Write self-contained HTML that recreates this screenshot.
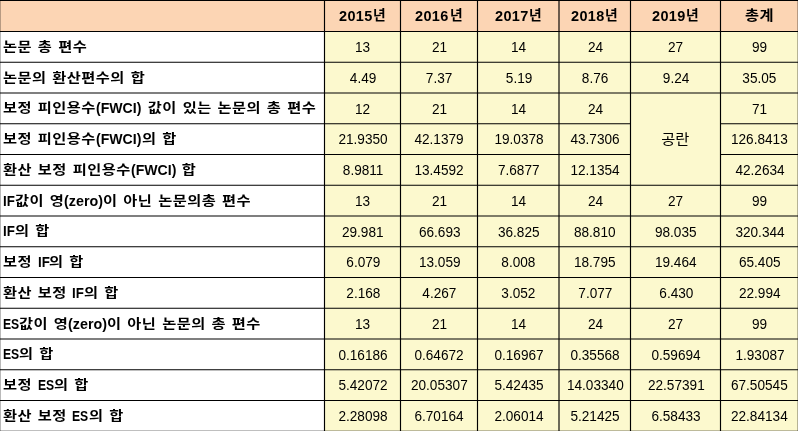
<!DOCTYPE html><html lang="ko"><head><meta charset="utf-8"><title>table</title><style>
html,body{margin:0;padding:0;background:#fff}
#t{position:relative;width:798px;height:431px;overflow:hidden;background:#fff;color:#000}
#t svg{position:absolute;left:0;top:0}
.c{position:absolute;display:flex;align-items:center;white-space:nowrap;line-height:1}
.l{justify-content:flex-start;font-family:"Liberation Sans","Noto Sans CJK KR",sans-serif;font-weight:700;font-size:13.0px}
.l b{display:inline-block;white-space:pre;font-weight:700;letter-spacing:0.4px;word-spacing:0.96px;transform:scaleX(1.173);transform-origin:0 50%}
.l i{display:inline-block;line-height:0;font-style:normal;font-size:15.4px;transform-origin:0 50%}
.n{padding-left:0.8px;box-sizing:border-box;justify-content:center;font-family:"Liberation Sans","Noto Sans CJK KR",sans-serif;font-weight:400;font-size:15.5px;letter-spacing:0.0px}
.n span{display:inline-block;transform:scaleX(0.878)}
.g{font-size:14.2px;padding-left:0}.g span{transform:translate(0.3px,-0.5px) scaleX(1.08)}
.h{justify-content:center;font-family:"Liberation Sans","Noto Sans CJK KR",sans-serif;font-weight:700;font-size:13.5px;letter-spacing:0.41px}
.h b{display:inline-block;white-space:pre;font-weight:700;letter-spacing:0.41px;transform:scaleX(1.13);transform-origin:0 50%}
.h i{display:inline-block;position:relative;top:1px;font-style:normal;font-size:15.4px;transform:scaleX(0.94);transform-origin:0 50%}
</style></head><body><div id="t">
<svg width="798" height="431" viewBox="0 0 798 431"><rect x="0" y="0" width="798" height="31.5" fill="#FCD5B4"/><rect x="324.5" y="31.5" width="473.5" height="399.5" fill="#FCF9CE"/><line x1="0" y1="0.45" x2="798" y2="0.45" stroke="#000" stroke-width="1.15"/><line x1="0" y1="31.5" x2="798" y2="31.5" stroke="#000" stroke-width="1.15"/><line x1="0" y1="62.25" x2="798" y2="62.25" stroke="#000" stroke-width="1.15"/><line x1="0" y1="93.0" x2="798" y2="93.0" stroke="#000" stroke-width="1.15"/><path d="M0 123.75 H630.5 M720.5 123.75 H798" stroke="#000" stroke-width="1.15" fill="none"/><path d="M0 154.5 H630.5 M720.5 154.5 H798" stroke="#000" stroke-width="1.15" fill="none"/><line x1="0" y1="185.25" x2="798" y2="185.25" stroke="#000" stroke-width="1.15"/><line x1="0" y1="216.0" x2="798" y2="216.0" stroke="#000" stroke-width="1.15"/><line x1="0" y1="246.75" x2="798" y2="246.75" stroke="#000" stroke-width="1.15"/><line x1="0" y1="277.5" x2="798" y2="277.5" stroke="#000" stroke-width="1.15"/><line x1="0" y1="308.25" x2="798" y2="308.25" stroke="#000" stroke-width="1.15"/><line x1="0" y1="339.0" x2="798" y2="339.0" stroke="#000" stroke-width="1.15"/><line x1="0" y1="369.75" x2="798" y2="369.75" stroke="#000" stroke-width="1.15"/><line x1="0" y1="400.5" x2="798" y2="400.5" stroke="#000" stroke-width="1.15"/><line x1="0" y1="431.25" x2="798" y2="431.25" stroke="#000" stroke-width="1.15"/><line x1="-0.3" y1="0" x2="-0.3" y2="431" stroke="#000" stroke-width="1.15"/><line x1="324.5" y1="0" x2="324.5" y2="431" stroke="#000" stroke-width="1.15"/><line x1="400.5" y1="0" x2="400.5" y2="431" stroke="#000" stroke-width="1.15"/><line x1="477.5" y1="0" x2="477.5" y2="431" stroke="#000" stroke-width="1.15"/><line x1="559.0" y1="0" x2="559.0" y2="431" stroke="#000" stroke-width="1.15"/><line x1="630.5" y1="0" x2="630.5" y2="431" stroke="#000" stroke-width="1.15"/><line x1="720.5" y1="0" x2="720.5" y2="431" stroke="#000" stroke-width="1.15"/><line x1="798.3" y1="0" x2="798.3" y2="431" stroke="#000" stroke-width="1.15"/></svg>
<div class="c h" style="left:324.5px;top:-0.25px;width:76.0px;height:30.75px;"><span><i style="margin-right:-2.06px">2015</i><b style="transform:scaleX(1.02);margin-right:0.26px;margin-left:0.5px">년</b></span></div>
<div class="c h" style="left:400.5px;top:-0.25px;width:77.0px;height:30.75px;"><span><i style="margin-right:-2.06px">2016</i><b style="transform:scaleX(1.02);margin-right:0.26px;margin-left:0.5px">년</b></span></div>
<div class="c h" style="left:477.5px;top:-0.25px;width:81.5px;height:30.75px;"><span><i style="margin-right:-2.06px">2017</i><b style="transform:scaleX(1.02);margin-right:0.26px;margin-left:0.5px">년</b></span></div>
<div class="c h" style="left:559.0px;top:-0.25px;width:71.5px;height:30.75px;"><span><i style="margin-right:-2.06px">2018</i><b style="transform:scaleX(1.02);margin-right:0.26px;margin-left:0.5px">년</b></span></div>
<div class="c h" style="left:630.5px;top:-0.25px;width:90.0px;height:30.75px;"><span><i style="margin-right:-2.06px">2019</i><b style="transform:scaleX(1.02);margin-right:0.26px;margin-left:0.5px">년</b></span></div>
<div class="c h" style="left:720.5px;top:-0.25px;width:77.8px;height:30.75px;"><span><b style="transform:translateY(0.6px) scaleX(1.13);margin-right:3.34px">총계</b></span></div>
<div class="c l" style="left:-0.3px;top:31.0px;width:324.8px;height:30.75px;padding-left:3.2px;"><span><b style="margin-right:12.19px">논문 총 편수</b></span></div>
<div class="c n" style="left:324.5px;top:31.5px;width:76.0px;height:30.75px;"><span>13</span></div>
<div class="c n" style="left:400.5px;top:31.5px;width:77.0px;height:30.75px;"><span>21</span></div>
<div class="c n" style="left:477.5px;top:31.5px;width:81.5px;height:30.75px;"><span>14</span></div>
<div class="c n" style="left:559.0px;top:31.5px;width:71.5px;height:30.75px;"><span>24</span></div>
<div class="c n" style="left:630.5px;top:31.5px;width:90.0px;height:30.75px;"><span>27</span></div>
<div class="c n" style="left:720.5px;top:31.5px;width:77.8px;height:30.75px;"><span>99</span></div>
<div class="c l" style="left:-0.3px;top:61.75px;width:324.8px;height:30.75px;padding-left:3.2px;"><span><b style="margin-right:20.74px">논문의 환산편수의 합</b></span></div>
<div class="c n" style="left:324.5px;top:62.25px;width:76.0px;height:30.75px;"><span>4.49</span></div>
<div class="c n" style="left:400.5px;top:62.25px;width:77.0px;height:30.75px;"><span>7.37</span></div>
<div class="c n" style="left:477.5px;top:62.25px;width:81.5px;height:30.75px;"><span>5.19</span></div>
<div class="c n" style="left:559.0px;top:62.25px;width:71.5px;height:30.75px;"><span>8.76</span></div>
<div class="c n" style="left:630.5px;top:62.25px;width:90.0px;height:30.75px;"><span>9.24</span></div>
<div class="c n" style="left:720.5px;top:62.25px;width:77.8px;height:30.75px;"><span>35.05</span></div>
<div class="c l" style="left:-0.3px;top:92.5px;width:324.8px;height:30.75px;padding-left:3.2px;"><span><b style="margin-right:13.58px">보정 피인용수</b><i style="transform:translateY(0.7px) scaleX(0.915);margin-right:-4.22px;margin-left:0.6px">(FWCI)</i><b style="margin-right:25.12px"> 값이 있는 논문의 총 편수</b></span></div>
<div class="c n" style="left:324.5px;top:93.0px;width:76.0px;height:30.75px;"><span>12</span></div>
<div class="c n" style="left:400.5px;top:93.0px;width:77.0px;height:30.75px;"><span>21</span></div>
<div class="c n" style="left:477.5px;top:93.0px;width:81.5px;height:30.75px;"><span>14</span></div>
<div class="c n" style="left:559.0px;top:93.0px;width:71.5px;height:30.75px;"><span>24</span></div>
<div class="c n" style="left:720.5px;top:93.0px;width:77.8px;height:30.75px;"><span>71</span></div>
<div class="c l" style="left:-0.3px;top:123.25px;width:324.8px;height:30.75px;padding-left:3.2px;"><span><b style="margin-right:13.58px">보정 피인용수</b><i style="transform:translateY(0.7px) scaleX(0.915);margin-right:-4.22px;margin-left:0.6px">(FWCI)</i><b style="margin-right:5.02px">의 합</b></span></div>
<div class="c n" style="left:324.5px;top:123.75px;width:76.0px;height:30.75px;"><span>21.9350</span></div>
<div class="c n" style="left:400.5px;top:123.75px;width:77.0px;height:30.75px;"><span>42.1379</span></div>
<div class="c n" style="left:477.5px;top:123.75px;width:81.5px;height:30.75px;"><span>19.0378</span></div>
<div class="c n" style="left:559.0px;top:123.75px;width:71.5px;height:30.75px;"><span>43.7306</span></div>
<div class="c n" style="left:720.5px;top:123.75px;width:77.8px;height:30.75px;"><span>126.8413</span></div>
<div class="c l" style="left:-0.3px;top:154.0px;width:324.8px;height:30.75px;padding-left:3.2px;"><span><b style="margin-right:18.60px">환산 보정 피인용수</b><i style="transform:translateY(0.7px) scaleX(0.915);margin-right:-4.22px;margin-left:0.6px">(FWCI)</i><b style="margin-right:2.88px"> 합</b></span></div>
<div class="c n" style="left:324.5px;top:154.5px;width:76.0px;height:30.75px;"><span>8.9811</span></div>
<div class="c n" style="left:400.5px;top:154.5px;width:77.0px;height:30.75px;"><span>13.4592</span></div>
<div class="c n" style="left:477.5px;top:154.5px;width:81.5px;height:30.75px;"><span>7.6877</span></div>
<div class="c n" style="left:559.0px;top:154.5px;width:71.5px;height:30.75px;"><span>12.1354</span></div>
<div class="c n" style="left:720.5px;top:154.5px;width:77.8px;height:30.75px;"><span>42.2634</span></div>
<div class="c l" style="left:-0.3px;top:184.75px;width:324.8px;height:30.75px;padding-left:3.2px;"><span><i style="transform:translateY(0.7px) scaleX(0.864);margin-right:-1.86px">IF</i><b style="margin-right:7.16px">값이 영</b><i style="transform:translateY(0.7px) scaleX(0.93);margin-right:-2.94px">(zero)</i><b style="margin-right:21.49px">이 아닌 논문의총 편수</b></span></div>
<div class="c n" style="left:324.5px;top:185.25px;width:76.0px;height:30.75px;"><span>13</span></div>
<div class="c n" style="left:400.5px;top:185.25px;width:77.0px;height:30.75px;"><span>21</span></div>
<div class="c n" style="left:477.5px;top:185.25px;width:81.5px;height:30.75px;"><span>14</span></div>
<div class="c n" style="left:559.0px;top:185.25px;width:71.5px;height:30.75px;"><span>24</span></div>
<div class="c n" style="left:630.5px;top:185.25px;width:90.0px;height:30.75px;"><span>27</span></div>
<div class="c n" style="left:720.5px;top:185.25px;width:77.8px;height:30.75px;"><span>99</span></div>
<div class="c l" style="left:-0.3px;top:215.5px;width:324.8px;height:30.75px;padding-left:3.2px;"><span><i style="transform:translateY(0.7px) scaleX(0.864);margin-right:-1.86px">IF</i><b style="margin-right:5.02px">의 합</b></span></div>
<div class="c n" style="left:324.5px;top:216.0px;width:76.0px;height:30.75px;"><span>29.981</span></div>
<div class="c n" style="left:400.5px;top:216.0px;width:77.0px;height:30.75px;"><span>66.693</span></div>
<div class="c n" style="left:477.5px;top:216.0px;width:81.5px;height:30.75px;"><span>36.825</span></div>
<div class="c n" style="left:559.0px;top:216.0px;width:71.5px;height:30.75px;"><span>88.810</span></div>
<div class="c n" style="left:630.5px;top:216.0px;width:90.0px;height:30.75px;"><span>98.035</span></div>
<div class="c n" style="left:720.5px;top:216.0px;width:77.8px;height:30.75px;"><span>320.344</span></div>
<div class="c l" style="left:-0.3px;top:246.25px;width:324.8px;height:30.75px;padding-left:3.2px;"><span><b style="margin-right:5.02px">보정 </b><i style="transform:translateY(0.7px) scaleX(0.864);margin-right:-1.86px">IF</i><b style="margin-right:5.02px">의 합</b></span></div>
<div class="c n" style="left:324.5px;top:246.75px;width:76.0px;height:30.75px;"><span>6.079</span></div>
<div class="c n" style="left:400.5px;top:246.75px;width:77.0px;height:30.75px;"><span>13.059</span></div>
<div class="c n" style="left:477.5px;top:246.75px;width:81.5px;height:30.75px;"><span>8.008</span></div>
<div class="c n" style="left:559.0px;top:246.75px;width:71.5px;height:30.75px;"><span>18.795</span></div>
<div class="c n" style="left:630.5px;top:246.75px;width:90.0px;height:30.75px;"><span>19.464</span></div>
<div class="c n" style="left:720.5px;top:246.75px;width:77.8px;height:30.75px;"><span>65.405</span></div>
<div class="c l" style="left:-0.3px;top:277.0px;width:324.8px;height:30.75px;padding-left:3.2px;"><span><b style="margin-right:10.05px">환산 보정 </b><i style="transform:translateY(0.7px) scaleX(0.864);margin-right:-1.86px">IF</i><b style="margin-right:5.02px">의 합</b></span></div>
<div class="c n" style="left:324.5px;top:277.5px;width:76.0px;height:30.75px;"><span>2.168</span></div>
<div class="c n" style="left:400.5px;top:277.5px;width:77.0px;height:30.75px;"><span>4.267</span></div>
<div class="c n" style="left:477.5px;top:277.5px;width:81.5px;height:30.75px;"><span>3.052</span></div>
<div class="c n" style="left:559.0px;top:277.5px;width:71.5px;height:30.75px;"><span>7.077</span></div>
<div class="c n" style="left:630.5px;top:277.5px;width:90.0px;height:30.75px;"><span>6.430</span></div>
<div class="c n" style="left:720.5px;top:277.5px;width:77.8px;height:30.75px;"><span>22.994</span></div>
<div class="c l" style="left:-0.3px;top:307.75px;width:324.8px;height:30.75px;padding-left:3.2px;"><span><i style="transform:translateY(0.7px) scaleX(0.79);margin-right:-4.32px">ES</i><b style="margin-right:7.16px">값이 영</b><i style="transform:translateY(0.7px) scaleX(0.93);margin-right:-2.94px">(zero)</i><b style="margin-right:22.23px">이 아닌 논문의 총 편수</b></span></div>
<div class="c n" style="left:324.5px;top:308.25px;width:76.0px;height:30.75px;"><span>13</span></div>
<div class="c n" style="left:400.5px;top:308.25px;width:77.0px;height:30.75px;"><span>21</span></div>
<div class="c n" style="left:477.5px;top:308.25px;width:81.5px;height:30.75px;"><span>14</span></div>
<div class="c n" style="left:559.0px;top:308.25px;width:71.5px;height:30.75px;"><span>24</span></div>
<div class="c n" style="left:630.5px;top:308.25px;width:90.0px;height:30.75px;"><span>27</span></div>
<div class="c n" style="left:720.5px;top:308.25px;width:77.8px;height:30.75px;"><span>99</span></div>
<div class="c l" style="left:-0.3px;top:338.5px;width:324.8px;height:30.75px;padding-left:3.2px;"><span><i style="transform:translateY(0.7px) scaleX(0.79);margin-right:-4.32px">ES</i><b style="margin-right:5.02px">의 합</b></span></div>
<div class="c n" style="left:324.5px;top:339.0px;width:76.0px;height:30.75px;"><span>0.16186</span></div>
<div class="c n" style="left:400.5px;top:339.0px;width:77.0px;height:30.75px;"><span>0.64672</span></div>
<div class="c n" style="left:477.5px;top:339.0px;width:81.5px;height:30.75px;"><span>0.16967</span></div>
<div class="c n" style="left:559.0px;top:339.0px;width:71.5px;height:30.75px;"><span>0.35568</span></div>
<div class="c n" style="left:630.5px;top:339.0px;width:90.0px;height:30.75px;"><span>0.59694</span></div>
<div class="c n" style="left:720.5px;top:339.0px;width:77.8px;height:30.75px;"><span>1.93087</span></div>
<div class="c l" style="left:-0.3px;top:369.25px;width:324.8px;height:30.75px;padding-left:3.2px;"><span><b style="margin-right:5.02px">보정 </b><i style="transform:translateY(0.7px) scaleX(0.79);margin-right:-4.32px">ES</i><b style="margin-right:5.02px">의 합</b></span></div>
<div class="c n" style="left:324.5px;top:369.75px;width:76.0px;height:30.75px;"><span>5.42072</span></div>
<div class="c n" style="left:400.5px;top:369.75px;width:77.0px;height:30.75px;"><span>20.05307</span></div>
<div class="c n" style="left:477.5px;top:369.75px;width:81.5px;height:30.75px;"><span>5.42435</span></div>
<div class="c n" style="left:559.0px;top:369.75px;width:71.5px;height:30.75px;"><span>14.03340</span></div>
<div class="c n" style="left:630.5px;top:369.75px;width:90.0px;height:30.75px;"><span>22.57391</span></div>
<div class="c n" style="left:720.5px;top:369.75px;width:77.8px;height:30.75px;"><span>67.50545</span></div>
<div class="c l" style="left:-0.3px;top:400.0px;width:324.8px;height:30.75px;padding-left:3.2px;"><span><b style="margin-right:10.05px">환산 보정 </b><i style="transform:translateY(0.7px) scaleX(0.79);margin-right:-4.32px">ES</i><b style="margin-right:5.02px">의 합</b></span></div>
<div class="c n" style="left:324.5px;top:400.5px;width:76.0px;height:30.75px;"><span>2.28098</span></div>
<div class="c n" style="left:400.5px;top:400.5px;width:77.0px;height:30.75px;"><span>6.70164</span></div>
<div class="c n" style="left:477.5px;top:400.5px;width:81.5px;height:30.75px;"><span>2.06014</span></div>
<div class="c n" style="left:559.0px;top:400.5px;width:71.5px;height:30.75px;"><span>5.21425</span></div>
<div class="c n" style="left:630.5px;top:400.5px;width:90.0px;height:30.75px;"><span>6.58433</span></div>
<div class="c n" style="left:720.5px;top:400.5px;width:77.8px;height:30.75px;"><span>22.84134</span></div>
<div class="c n g" style="left:630.5px;top:93.0px;width:90.0px;height:92.25px;"><span>공란</span></div>
</div></body></html>
